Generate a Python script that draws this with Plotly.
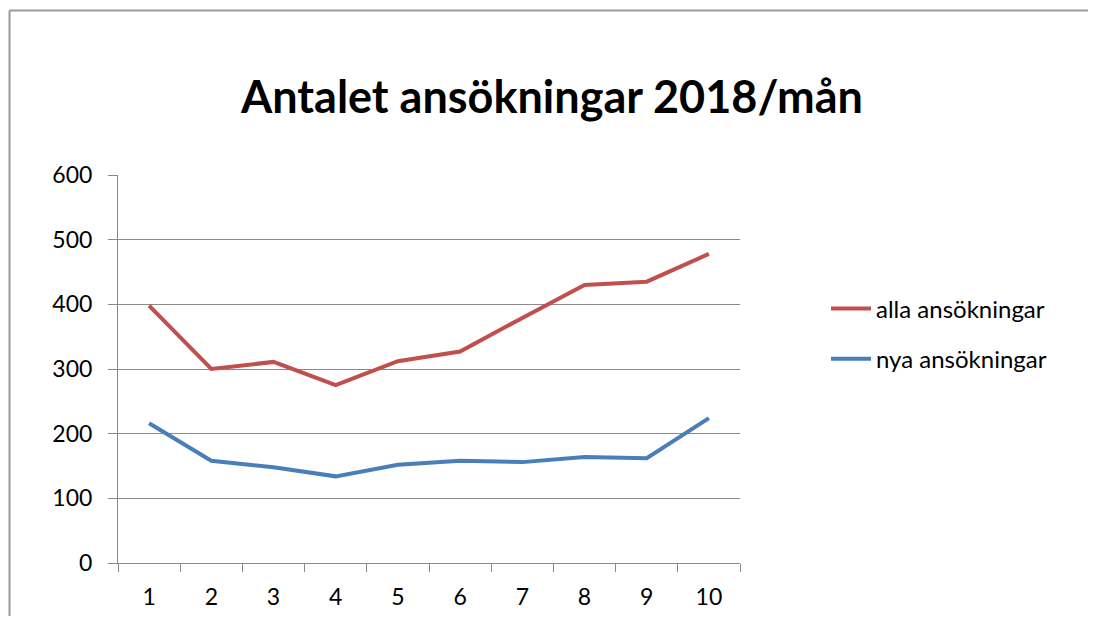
import plotly.graph_objects as go

months = ["1", "2", "3", "4", "5", "6", "7", "8", "9", "10"]
alla = [398, 300, 311, 275, 312, 327, 379, 430, 435, 478]
nya = [216, 158, 148, 134, 152, 158, 156, 164, 162, 224]
title_text = "Antalet ansökningar 2018/mån"
name_alla = "alla ansökningar"
name_nya = "nya ansökningar"

FONT = "Lato"
GRID = "#8a8a8a"

fig = go.Figure()
fig.add_trace(go.Scatter(x=months, y=alla, mode="lines", name=name_alla,
                         line=dict(color="#C0504D", width=4), legendgroup="a"))
fig.add_trace(go.Scatter(x=months, y=nya, mode="lines", name=name_nya,
                         line=dict(color="#4A7EBB", width=4), legendgroup="b"))

# page has an 8px body margin on every side; keep the figure inside the viewport
OFF = 8
W, H = 1096 - OFF, 624 - 2 * OFF
L, R, T, B = 118 - OFF, 740 - OFF, 175 - OFF, 563 - OFF

fig.update_layout(
    width=W, height=H,
    margin=dict(l=L, r=W - R, t=T, b=H - B, pad=0, autoexpand=False),
    paper_bgcolor="white", plot_bgcolor="white",
    font=dict(family=FONT, color="#000000"),
    title=dict(text="<b>" + title_text + "</b>", x=(552 - OFF) / W, xanchor="center",
               y=1 - (97 - OFF) / H, yanchor="middle", xref="container",
               font=dict(family=FONT, size=45, color="#000000")),
    legend=dict(x=(826 - OFF - L) / (R - L), y=(B - (334 - OFF)) / (B - T),
                xanchor="left", yanchor="middle",
                font=dict(family=FONT, size=24, color="#000000"),
                tracegroupgap=16, bgcolor="rgba(0,0,0,0)", itemwidth=40),
    showlegend=True,
)
fig.update_xaxes(type="category", range=[-0.5, 9.5], tickson="boundaries",
                 showgrid=False, showline=True, linecolor=GRID, linewidth=1,
                 ticks="outside", ticklen=8, tickcolor=GRID, tickwidth=1,
                 tickfont=dict(family=FONT, size=23, color="#000000"),
                 ticklabelstandoff=13, zeroline=False, automargin=False)
fig.update_yaxes(range=[0, 600], dtick=100, showgrid=True, gridcolor=GRID, gridwidth=1,
                 showline=True, linecolor=GRID, linewidth=1,
                 ticks="outside", ticklen=9, tickcolor=GRID, tickwidth=1,
                 tickfont=dict(family=FONT, size=23, color="#000000"),
                 ticklabelstandoff=11, zeroline=False, automargin=False)

# outer chart frame (only the left and top edges are visible in the reference)
fx0 = (9.5 - OFF - L) / (R - L)
fx1 = (W - L) / (R - L)
fy = (B - (10.5 - OFF)) / (B - T)
fig.add_shape(type="line", xref="paper", yref="paper", x0=fx0, x1=fx0, y0=-0.5, y1=fy,
              line=dict(color="#9a9a9a", width=2), layer="below")
fig.add_shape(type="line", xref="paper", yref="paper", x0=fx0, x1=fx1, y0=fy, y1=fy,
              line=dict(color="#9a9a9a", width=2), layer="below")

fig.write_html("out.html")
